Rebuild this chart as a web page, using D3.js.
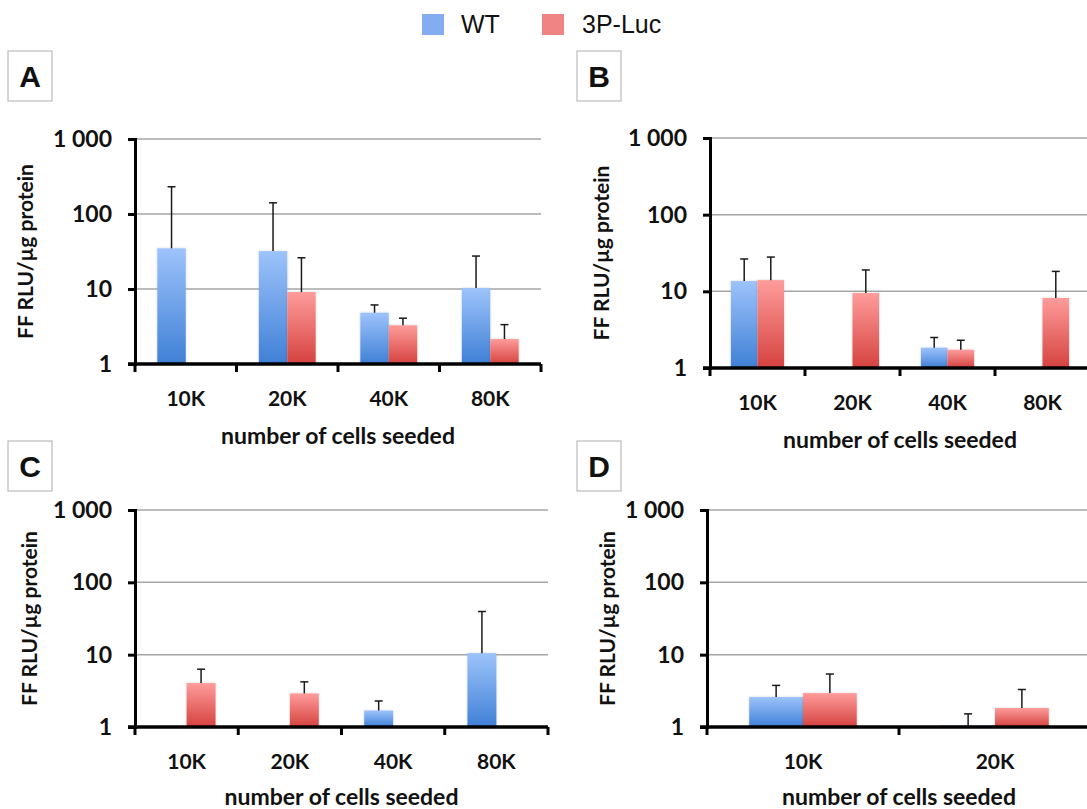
<!DOCTYPE html>
<html><head><meta charset="utf-8">
<script src="https://cdn.jsdelivr.net/npm/d3@7"></script>
<style>body{margin:0;background:#fff}svg{display:block}</style>
</head><body>
<script>
// ---- data ----
const seriesNames = ["WT", "3P-Luc"];
const cats4 = ["10K", "20K", "40K", "80K"];
const cats2 = ["10K", "20K"];
const yTicks = [1, 10, 100, 1000];
const yTickLabels = ["1", "10", "100", "1 000"];

const A_wt = [34.9, 32, 4.83, 10.3];
const A_wtErr = [196, 109, 1.3, 17.2];
const A_luc = [null, 9.1, 3.28, 2.15];
const A_lucErr = [null, 17, 0.8, 1.2];

const B_wt = [13.6, null, 1.84, null];
const B_wtErr = [12.8, null, 0.66, null];
const B_luc = [14.0, 9.5, 1.73, 8.2];
const B_lucErr = [14, 9.5, 0.57, 10];

const C_wt = [null, null, 1.69, 10.5];
const C_wtErr = [null, null, 0.6, 29];
const C_luc = [4.05, 2.91, null, null];
const C_lucErr = [2.25, 1.3, null, null];

const D_wt = [2.6, 1.05];
const D_wtErr = [1.16, 0.47];
const D_luc = [2.94, 1.83];
const D_lucErr = [2.46, 1.47];

const W = 1087, H = 809;
const svg = d3.select("body").append("svg").attr("width", W).attr("height", H);
const FONT = "Lato, 'Open Sans', sans-serif";

// gradients
const defs = svg.append("defs");
function grad(id, top, bot) {
  const g = defs.append("linearGradient").attr("id", id).attr("x1", 0).attr("y1", 0).attr("x2", 0).attr("y2", 1);
  g.append("stop").attr("offset", "0%").attr("stop-color", top);
  g.append("stop").attr("offset", "100%").attr("stop-color", bot);
}
grad("gBlue", "#9dc3fb", "#3f80d6");
grad("gRed", "#fe9c9b", "#d5423f");
const f = defs.append("filter").attr("id", "sh").attr("x", "-20%").attr("y", "-5%").attr("width", "140%").attr("height", "110%");
f.append("feDropShadow").attr("dx", 0).attr("dy", 0).attr("stdDeviation", 1.2).attr("flood-color", "#000").attr("flood-opacity", 0.18);

// legend
const leg = svg.append("g");
[["#82adf0", seriesNames[0], 422, 461], ["#f08383", seriesNames[1], 542, 582]].forEach(([c, t, sx, tx]) => {
  leg.append("rect").attr("x", sx).attr("y", 14).attr("width", 22).attr("height", 21).attr("fill", c);
  leg.append("text").attr("x", tx).attr("y", 33).attr("font-family", "'Liberation Sans', Arial, sans-serif")
    .attr("font-size", 25).attr("fill", "#111").text(t);
});

function panel(cfg) {
  const g = svg.append("g");
  // panel letter box
  g.append("rect").attr("x", cfg.box[0]).attr("y", cfg.box[1]).attr("width", 44).attr("height", 50)
    .attr("fill", "#fff").attr("stroke", "#bbb").attr("stroke-width", 1.2);
  g.append("text").attr("x", cfg.box[0] + 22).attr("y", cfg.box[1] + 36).attr("text-anchor", "middle")
    .attr("font-family", "'Liberation Sans', Arial, sans-serif").attr("font-weight", "bold").attr("font-size", 30)
    .attr("fill", "#111").text(cfg.letter);

  const x = d3.scaleBand().domain(cfg.cats).range([cfg.x0, cfg.x1]);
  const y = d3.scaleLog().domain([1, 1000]).range([cfg.yb, cfg.yt]);

  // gridlines
  g.append("g").selectAll("line").data(yTicks.slice(1)).join("line")
    .attr("x1", cfg.x0).attr("x2", cfg.x1).attr("y1", d => y(d)).attr("y2", d => y(d))
    .attr("stroke", "#a6a6a6").attr("stroke-width", 1.5);

  const bw = x.bandwidth() * 0.28;
  const series = [
    {vals: cfg.wt, err: cfg.wtErr, fill: "url(#gBlue)", off: -bw},
    {vals: cfg.luc, err: cfg.lucErr, fill: "url(#gRed)", off: 0}
  ];
  series.forEach(s => {
    const data = cfg.cats.map((c, i) => ({c, v: s.vals[i], e: s.err[i]})).filter(d => d.v != null);
    const cx = d => x(d.c) + x.bandwidth() / 2 + s.off;
    g.append("g").selectAll("rect").data(data).join("rect")
      .attr("x", cx).attr("width", bw)
      .attr("y", d => y(d.v)).attr("height", d => y(1) - y(d.v))
      .attr("fill", s.fill).attr("filter", "url(#sh)");
    const eb = g.append("g").attr("stroke", "#1a1a1a").attr("stroke-width", 1.5);
    eb.selectAll("line.v").data(data).join("line").attr("class", "v")
      .attr("x1", d => cx(d) + bw / 2).attr("x2", d => cx(d) + bw / 2)
      .attr("y1", d => y(d.v)).attr("y2", d => y(d.v + d.e));
    eb.selectAll("line.c").data(data).join("line").attr("class", "c")
      .attr("x1", d => cx(d) + bw / 2 - 4).attr("x2", d => cx(d) + bw / 2 + 4)
      .attr("y1", d => y(d.v + d.e)).attr("y2", d => y(d.v + d.e));
  });

  // y axis
  const ya = g.append("g").attr("transform", `translate(${cfg.x0},0)`)
    .call(d3.axisLeft(y).tickValues(yTicks).tickFormat((d, i) => yTickLabels[i]).tickSize(7).tickPadding(16));
  ya.select(".domain").attr("stroke", "#000").attr("stroke-width", 3);
  ya.selectAll(".tick line").attr("stroke", "#000").attr("stroke-width", 3);
  ya.selectAll("text").attr("font-family", FONT).attr("font-weight", "bold").attr("font-size", 23).attr("fill", "#111");

  // x axis: labels at centers, ticks at band edges
  const xa = g.append("g").attr("transform", `translate(0,${cfg.yb})`)
    .call(d3.axisBottom(x).tickSize(0).tickPadding(27));
  xa.select(".domain").remove();
  xa.selectAll("text").attr("font-family", FONT).attr("font-weight", "bold").attr("font-size", 21).attr("fill", "#111");
  const edges = cfg.cats.map(c => x(c)).concat([cfg.x1]);
  g.append("line").attr("x1", cfg.x0 - 7).attr("x2", cfg.x1).attr("y1", cfg.yb).attr("y2", cfg.yb)
    .attr("stroke", "#000").attr("stroke-width", 3.5);
  g.append("g").selectAll("line").data(edges).join("line")
    .attr("x1", d => d).attr("x2", d => d).attr("y1", cfg.yb).attr("y2", cfg.yb + 8)
    .attr("stroke", "#000").attr("stroke-width", 3);

  // axis titles
  g.append("text").attr("x", (cfg.x0 + cfg.x1) / 2).attr("y", Math.min(cfg.yb + 80, 805)).attr("text-anchor", "middle")
    .attr("font-family", FONT).attr("font-weight", "bold").attr("font-size", 23).attr("fill", "#111")
    .text("number of cells seeded");
  g.append("text").attr("transform", `translate(${cfg.ylx},${(cfg.yt + cfg.yb) / 2}) rotate(-90)`)
    .attr("text-anchor", "middle").attr("dy", "0.35em")
    .attr("font-family", FONT).attr("font-weight", "bold").attr("font-size", 21).attr("fill", "#111")
    .text("FF RLU/µg protein");
}

panel({letter: "A", box: [8, 51], cats: cats4, x0: 135, x1: 541, yt: 139, yb: 364, ylx: 26,
  wt: A_wt, wtErr: A_wtErr, luc: A_luc, lucErr: A_lucErr});
panel({letter: "B", box: [577, 51], cats: cats4, x0: 710, x1: 1090, yt: 138, yb: 368, ylx: 602,
  wt: B_wt, wtErr: B_wtErr, luc: B_luc, lucErr: B_lucErr});
panel({letter: "C", box: [8, 441], cats: cats4, x0: 135, x1: 548, yt: 510, yb: 727, ylx: 30,
  wt: C_wt, wtErr: C_wtErr, luc: C_luc, lucErr: C_lucErr});
panel({letter: "D", box: [577, 441], cats: cats2, x0: 707, x1: 1091, yt: 510, yb: 727, ylx: 608,
  wt: D_wt, wtErr: D_wtErr, luc: D_luc, lucErr: D_lucErr});
</script>
</body></html>
